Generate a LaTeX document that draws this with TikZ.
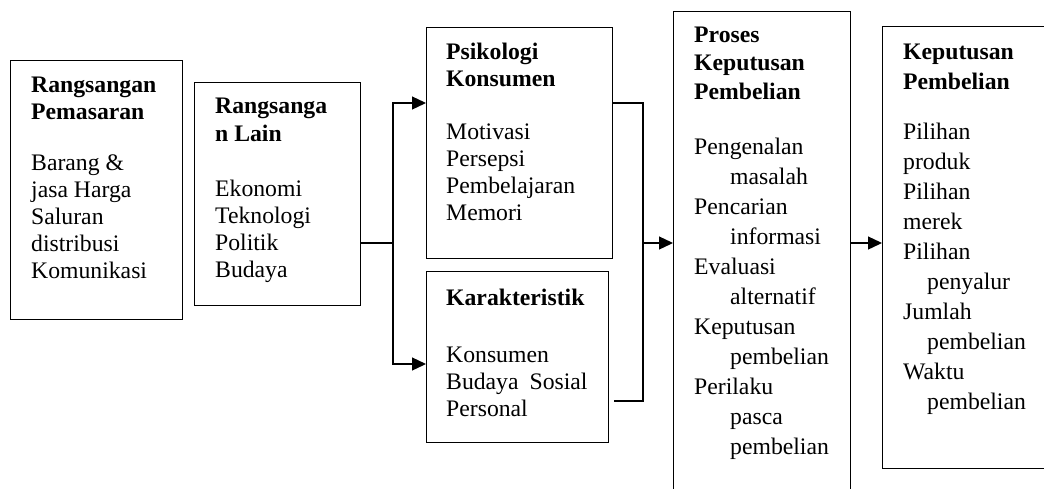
\documentclass[tikz,border=0pt]{standalone}
\usepackage{fontspec}
\setmainfont{Liberation Serif}
\usetikzlibrary{arrows.meta}
\begin{document}
\begin{tikzpicture}[x=1pt,y=-1pt,
  box/.style={draw, line width=1.3pt, anchor=north west, inner sep=0pt},
  txt/.style={anchor=north west, inner sep=0pt, align=left, font=\fontsize{23.7}{27}\selectfont},
  txtw/.style={anchor=north west, inner sep=0pt, align=left, font=\fontsize{23.7}{30}\selectfont},
  conn/.style={line width=1.3pt},
  arr/.style={line width=1.3pt, -{Triangle[length=14pt,width=13pt]}}]
\useasboundingbox (0,0) rectangle (1044,488);
\clip (0,0) rectangle (1044,488);
% boxes
\node[box, minimum width=172pt, minimum height=259pt] (b1) at (10,60) {};
\node[box, minimum width=166pt, minimum height=223pt] (b2) at (194,82) {};
\node[box, minimum width=186pt, minimum height=231pt] (b3) at (426,27) {};
\node[box, minimum width=182pt, minimum height=171pt] (b4) at (426,271) {};
\node[box, minimum width=177pt, minimum height=489pt] (b5) at (673,11) {};
\node[box, minimum width=178pt, minimum height=442pt] (b6) at (882,26) {};
% texts
\node[txt] (t1) at (31,73.1) {\strut\textbf{Rangsangan}\\\textbf{Pemasaran}\\[24pt]Barang \&\\jasa Harga\\Saluran\\distribusi\\Komunikasi};
\node[txt] (t2) at (215,94) {\strut\textbf{Rangsanga}\\[1pt]\textbf{n Lain}\\[28pt]Ekonomi\\Teknologi\\Politik\\Budaya};
\node[txt] (t3) at (446,40) {\strut\textbf{Psikologi}\\\textbf{Konsumen}\\[26pt]Motivasi\\Persepsi\\Pembelajaran\\Memori};
\node[txt] (t4) at (446,286.1) {\strut\textbf{Karakteristik}\\[30pt]Konsumen\\Budaya\hspace{11pt}Sosial\\Personal};
\node[txtw] (t5) at (694,21) {\strut\textbf{Proses}\\[-1.5pt]\textbf{Keputusan}\\[-1.5pt]\textbf{Pembelian}\\[25pt]Pengenalan\\\hspace*{36pt}masalah\\Pencarian\\\hspace*{36pt}informasi\\Evaluasi\\\hspace*{36pt}alternatif\\Keputusan\\\hspace*{36pt}pembelian\\Perilaku\\\hspace*{36pt}pasca\\\hspace*{36pt}pembelian};
\node[txtw] (t6) at (903,38) {\strut\textbf{Keputusan}\\\textbf{Pembelian}\\[20pt]Pilihan\\produk\\Pilihan\\merek\\Pilihan\\\hspace*{24pt}penyalur\\Jumlah\\\hspace*{24pt}pembelian\\Waktu\\\hspace*{24pt}pembelian};
% connectors
\coordinate (j1) at (393,243);
\coordinate (ja) at (393,103);
\coordinate (jb) at (393,364);
\coordinate (j2) at (643,243);
\coordinate (jc) at (643,401);
\draw[conn] (b2.east |- j1) -- (j1);
\draw[arr] (j1) |- (b3.west |- ja);
\draw[arr] (j1) |- (b4.west |- jb);
\draw[conn] (b3.east |- ja) -| (j2);
\draw[conn] ([xshift=5pt]b4.east |- jc) -- (jc) -- (j2);
\draw[arr] (j2) -- (b5.west |- j2);
\draw[arr] (b5.east |- j2) -- (b6.west |- j2);
\end{tikzpicture}
\end{document}
